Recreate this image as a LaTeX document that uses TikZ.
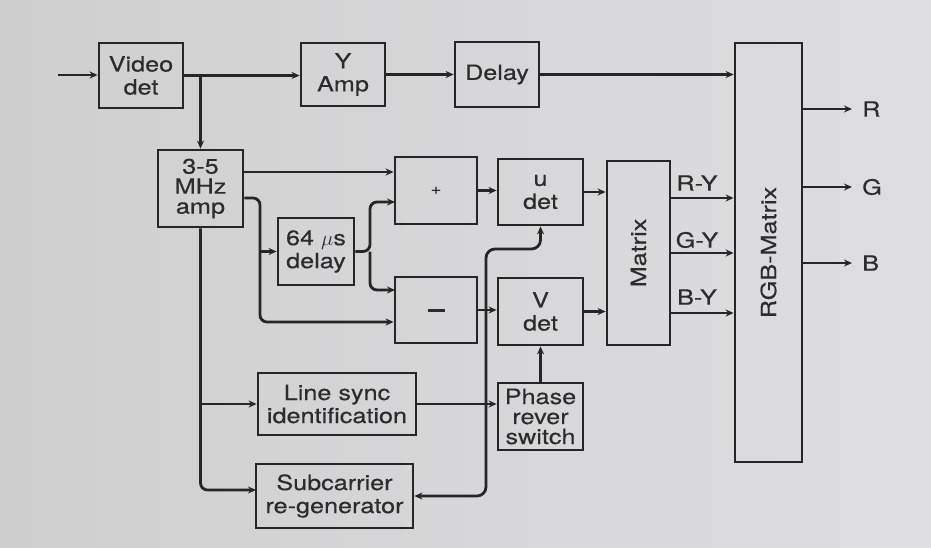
\documentclass[tikz,border=0pt]{standalone}
\usepackage{fontspec}
\setmainfont{TeX Gyre Heros}
\newfontfamily\dfont[FakeBold=0.4,FakeStretch=1.2]{TeX Gyre Heros}
\usetikzlibrary{arrows.meta}
\definecolor{ln}{HTML}{262626}
\definecolor{tx}{HTML}{2C2C2C}
\definecolor{bgl}{HTML}{CFCFCF}
\definecolor{bgr}{HTML}{DEDEE2}
\begin{document}
\begin{tikzpicture}[x=1pt,y=-1pt,
  box/.style={draw=ln, line width=2.8pt, align=center, inner sep=0pt, text=tx,
    font=\dfont\fontsize{21}{23}\selectfont},
  tight/.style={font=\dfont\fontsize{21}{20}\selectfont},
  wire/.style={draw=ln, line width=2.8pt},
  arr/.style={wire, -{Stealth[length=8pt,width=7pt]}},
  lbl/.style={text=tx, font=\dfont\fontsize{21}{23}\selectfont, inner sep=0pt}]
\shade[left color=bgl, right color=bgr] (0,0) rectangle (931,548);
\useasboundingbox (0,0) rectangle (931,548);
% boxes
\node[box, minimum width=84pt, minimum height=65pt] (vdt) at (141,75.5) {Video\\det};
\node[box, minimum width=84pt, minimum height=63pt] (ya) at (343,74.5) {Y\\Amp};
\node[box, minimum width=84pt, minimum height=65pt] (dl) at (497,74.5) {Delay};
\node[box, minimum width=67pt, minimum height=419pt] (rgb) at (768.5,252.5) {};
\node[lbl, rotate=90] (rgbt) at (rgb.center) {RGB-Matrix};
\node[box, minimum width=63pt, minimum height=184pt] (mx) at (638.5,253) {};
\node[lbl, rotate=90] (mxt) at (mx.center) {Matrix};
\node[box, tight, minimum width=85pt, minimum height=77pt] (mhz) at (200.5,188.5) {3-5\\MHz\\amp};
\node[box, minimum width=82pt, minimum height=67pt] (pl) at (436,190.5) {\fontsize{15}{15}\selectfont +};
\node[box, minimum width=85pt, minimum height=66pt] (ud) at (540.5,192) {u\\det};
\node[box, minimum width=76pt, minimum height=67pt] (d64) at (316,251.5) {64 $\mu$s\\delay};
\node[box, minimum width=82pt, minimum height=66pt] (mn) at (436,310) {\rule{17pt}{3pt}};
\node[box, minimum width=85pt, minimum height=67pt] (vd) at (540.5,311.5) {V\\det};
\node[box, minimum width=158pt, minimum height=62pt] (ls) at (337,404) {Line sync\\identification};
\node[box, minimum width=157pt, minimum height=64pt] (sc) at (334.5,496) {Subcarrier\\re-generator};
\node[box, tight, minimum width=85pt, minimum height=67pt] (ph) at (540.5,416.5) {Phase\\rever\\switch};
% coordinates
\coordinate (in) at (58,75);
\coordinate (R) at (852,109);
\coordinate (G) at (852,187);
\coordinate (B) at (852,263);
\coordinate (ry) at (700,198);
\coordinate (gy) at (700,253);
\coordinate (by) at (700,313);
\coordinate (a1) at (250,172);
\coordinate (a2) at (260,198);
\coordinate (a3) at (260,322);
\coordinate (b1) at (370,251.5);
\coordinate (b2) at (395,202);
\coordinate (b3) at (395,290);
\coordinate (c2) at (256,490);
\coordinate (d1) at (486,496);
\coordinate (d2) at (486,249);
% connectors
\draw[arr] (in) -- (in -| vdt.west);
\draw[arr] (vdt.east) -- (vdt.east -| ya.west);
\draw[arr] (vdt.east -| mhz.north) -- (mhz.north);
\draw[arr] (ya.east) -- (ya.east -| dl.west);
\draw[arr] (dl.east) -- (dl.east -| rgb.west);
\draw[arr] (R -| rgb.east) -- (R);
\draw[arr] (G -| rgb.east) -- (G);
\draw[arr] (B -| rgb.east) -- (B);
\node[lbl, anchor=west] (Rl) at (862,109) {R};
\node[lbl, anchor=west] (Gl) at (862,187) {G};
\node[lbl, anchor=west] (Bl) at (862,263) {B};
\draw[arr] (mx.east |- ry) -- (rgb.west |- ry);
\draw[arr] (mx.east |- gy) -- (rgb.west |- gy);
\draw[arr] (mx.east |- by) -- (rgb.west |- by);
\node[lbl] (ryl) at (697,183) {R-Y};
\node[lbl] (gyl) at (697,240) {G-Y};
\node[lbl] (byl) at (697,297) {B-Y};
\draw[arr] (ud.east) -- (ud.east -| mx.west);
\draw[arr] (vd.east) -- (vd.east -| mx.west);
\draw[arr] (pl.east) -- (pl.east -| ud.west);
\draw[arr] (mn.east) -- (mn.east -| vd.west);
\draw[arr] (mhz.east |- a1) -- (pl.west |- a1);
\draw[arr, rounded corners=7pt] (mhz.east |- a2) -- (a2) -- (a3) -- (a3 -| mn.west);
\draw[arr] (a2 |- d64.west) -- (d64.west);
\draw[arr, rounded corners=7pt] (d64.east) -- (b1) -- (b1 |- b2) -- (b2);
\draw[arr, rounded corners=7pt] (b1) -- (b1 |- b3) -- (b3);
\draw[arr, rounded corners=7pt] (mhz.south) -- (mhz.south |- c2) -- (c2);
\draw[arr] (mhz.south |- ls.west) -- (ls.west);
\draw[arr] (ls.east) -- (ls.east -| ph.west);
\draw[arr] (ph.north) -- (vd.south);
\draw[wire, {Stealth[length=8pt,width=7pt]}-{Stealth[length=8pt,width=7pt]}, rounded corners=9pt]
  (sc.east) -- (d1) -- (d2) -- (ud.south |- d2) -- (ud.south);
\end{tikzpicture}
\end{document}
